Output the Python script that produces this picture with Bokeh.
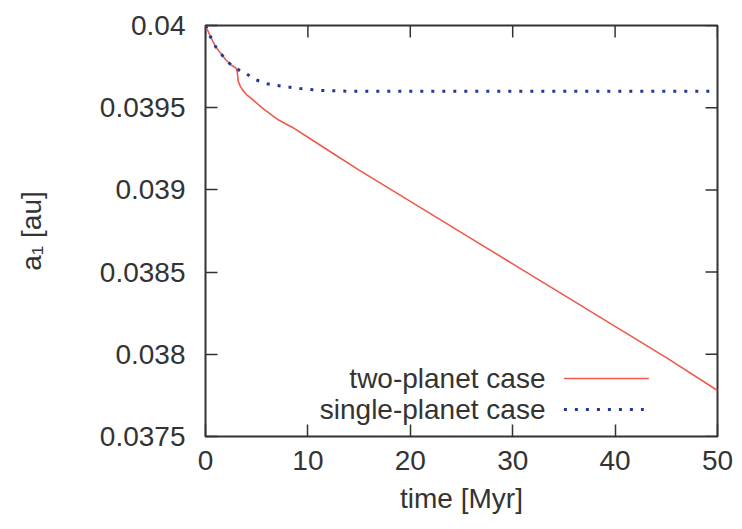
import math
from bokeh.plotting import figure
from bokeh.models import FixedTicker, CustomJSTickFormatter
from bokeh.core.properties import value
from bokeh.embed import file_html
from bokeh.resources import INLINE

# ---- data ----
t_two = [0, 0.5, 1.0, 1.5, 2.0, 2.5, 3.0, 3.1, 3.2, 3.4, 3.6, 4.0, 4.5, 5.5, 7.0,
         8.5, 10, 12.5, 15, 20, 25, 30, 35, 40, 45, 50]
a_two = [0.04, 0.03993, 0.03987, 0.03983, 0.03979, 0.03976, 0.03974, 0.03972,
         0.03966, 0.03963, 0.03961, 0.03958, 0.039555, 0.03950, 0.03943,
         0.03938, 0.03932, 0.03922, 0.03912, 0.03893, 0.03874, 0.03855,
         0.03836, 0.03817, 0.03798, 0.03778]

t_one = [0, 0.5, 1.0, 1.5, 2.0, 2.5, 3.0, 3.5, 3.9, 4.9, 6.0, 7.5, 9.3, 11.2,
         14, 20, 30, 40, 50]
a_one = [0.04, 0.03993, 0.03987, 0.03983, 0.03979, 0.03976, 0.03974, 0.03972,
         0.03971, 0.03967, 0.039646, 0.03963, 0.039616, 0.039605, 0.0396,
         0.0396, 0.0396, 0.0396, 0.0396]

x_ticks = [0, 10, 20, 30, 40, 50]
y_ticks = [0.0375, 0.038, 0.0385, 0.039, 0.0395, 0.04]
series_labels = ["two-planet case", "single-planet case"]

X_MIN, X_MAX = 0, 50
Y_MIN, Y_MAX = 0.0375, 0.04

RED = "#ee5a4c"
BLUE = "#22379a"
INK = "#333333"
FONT = "Liberation Sans"
FS = "28px"
TICK = 12

p = figure(width=742, height=529, frame_width=512, frame_height=411,
           x_range=(X_MIN, X_MAX), y_range=(Y_MIN, Y_MAX),
           output_backend="svg", toolbar_location=None,
           min_border_left=205, min_border_right=25,
           min_border_top=25, min_border_bottom=93,
           background_fill_color="white", border_fill_color="white")

p.xgrid.visible = False
p.ygrid.visible = False
p.outline_line_color = INK
p.outline_line_width = 2

for ax in (p.xaxis[0], p.yaxis[0]):
    ax.axis_line_color = None
    ax.major_tick_in = TICK
    ax.major_tick_out = 0
    ax.minor_tick_line_color = None
    ax.major_tick_line_color = INK
    ax.major_tick_line_width = 1.5
    ax.major_label_text_font = FONT
    ax.major_label_text_font_size = FS
    ax.major_label_text_color = INK
    ax.axis_label_text_font = FONT
    ax.axis_label_text_font_size = FS
    ax.axis_label_text_font_style = "normal"
    ax.axis_label_text_color = INK

p.xaxis.ticker = FixedTicker(ticks=x_ticks)
p.yaxis.ticker = FixedTicker(ticks=y_ticks)
p.yaxis.formatter = CustomJSTickFormatter(
    code="return String(parseFloat(tick.toFixed(5)));")
p.xaxis.axis_label = "time [Myr]"
p.yaxis.axis_label = "a\u2081 [au]"
p.xaxis.major_label_standoff = 14
p.xaxis.axis_label_standoff = 10
p.yaxis.major_label_standoff = 20
p.yaxis.axis_label_standoff = 50

# mirrored inward ticks on the top and right frame edges
p.ray(x=x_ticks, y=[Y_MAX] * len(x_ticks), length=TICK, length_units="screen",
      angle=-math.pi / 2, line_color=INK, line_width=1.5)
p.ray(x=[X_MAX] * len(y_ticks), y=y_ticks, length=TICK, length_units="screen",
      angle=math.pi, line_color=INK, line_width=1.5)

p.line(t_two, a_two, line_color=RED, line_width=1.6)
p.line(t_one, a_one, line_color=BLUE, line_width=3, line_dash="3 8")

# ---- legend (text on the left, sample on the right) ----
leg_text_x = 33.2
leg_x0, leg_x1 = 35.0, 43.3
leg_rows = [0.037853, 0.037664]
p.text(x=[leg_text_x, leg_text_x], y=leg_rows, text=series_labels,
       text_align="right", text_baseline="middle",
       text_font=value(FONT), text_font_size=FS, text_color=INK)
p.line([leg_x0, leg_x1], [leg_rows[0], leg_rows[0]], line_color=RED, line_width=1.6)
p.line([leg_x0, leg_x1 - 0.5], [leg_rows[1], leg_rows[1]], line_color=BLUE,
       line_width=3, line_dash="3 8")

open("out.html", "w").write(file_html(p, INLINE))
